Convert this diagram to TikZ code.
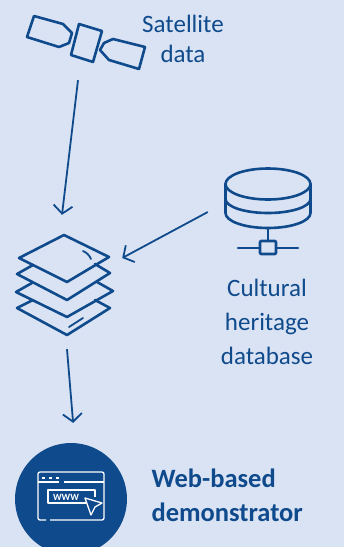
\documentclass[tikz,border=0pt]{standalone}
\usepackage{fontspec}
\setmainfont{Carlito}
\usetikzlibrary{arrows.meta}
\definecolor{pagebg}{HTML}{DAE3F3}
\definecolor{iconblue}{HTML}{0F4A8C}
\tikzset{
    iconbox/.style={inner sep=0pt, minimum width=#1},
    iconline/.style={draw=iconblue, line width=2.6pt, line join=round, line cap=round},
    webline/.style={draw=white, line width=1.3pt, line join=round},
    flow/.style={draw=iconblue, line width=1.8pt, -{Straight Barb[length=8pt,width=19pt]}},
    label/.style={text=iconblue, font=\fontsize{25}{30}\selectfont, align=center},
    boldlabel/.style={text=iconblue, font=\fontsize{26.5}{34}\selectfont\bfseries, align=left},
}
\begin{document}
\begin{tikzpicture}[x=1pt, y=-1pt, >=stealth]
    \fill[pagebg] (0,0) rectangle (344,547);
    \useasboundingbox (0,0) rectangle (344,547);

    % Nodes without outlines, the icons sit inside them
    \node (satellite) [iconbox=125pt, minimum height=76pt] at (86,42) {};
    \node (layers) [iconbox=120pt, minimum height=134pt] at (62,282) {};
    \node (database) [iconbox=120pt, minimum height=60pt] at (268,212) {};
    \node (demo) [circle, fill=iconblue, minimum size=112pt, inner sep=0pt] at (71,499) {};

    % Labels
    \node (satlabel) [label] at (183,39) {Satellite\\data};
    \node (dblabel) [label, font=\fontsize{25}{34}\selectfont] at (267,322) {Cultural\\heritage\\database};
    \node (demolabel) [boldlabel, anchor=west] at (148,495) {Web-based\\demonstrator};

    % Satellite
    \draw[iconline] (34,16) -- (63,24) -- (72,33) -- (69,43) -- (59,47) -- (27,37) -- cycle;
    \draw[iconline] (79,24) -- (102,31) -- (93,62) -- (71,55) -- cycle;
    \draw[iconline] (113,39) -- (145,47) -- (139,69) -- (109,60) -- (100,50) -- (104,43) -- cycle;

    % Layers
    \draw[iconline] (64,235) -- (109,257) -- (67,282) -- (19,258) -- cycle;
    \draw[iconline, line width=1.8pt] (83,251) to[bend left=20] (91,259);
    \draw[iconline] (33,265) -- (17,274) -- (67,300) -- (110,273) -- (95,264);
    \draw[iconline] (32,283) -- (16,292) -- (67,317) -- (113,291) -- (97,282);
    \draw[iconline] (33,300) -- (17,308) -- (67,335) -- (110,308) -- (95,300);
    \draw[iconline, line width=1.8pt] (69,327) -- (83,318);

    % Database
    \draw[iconline] (268,184) ellipse (42.5 and 15.5);
    \draw[iconline] (225.5,184) -- (225.5,213) arc[start angle=180, end angle=360, x radius=42.5, y radius=-15] -- (310.5,184);
    \draw[iconline] (225.5,199) arc[start angle=180, end angle=360, x radius=42.5, y radius=-14];
    \draw[iconline] (268,228) -- (268,240);
    \draw[iconline] (238,248) -- (259,248) (277,248) -- (298,248);
    \draw[iconline, rounded corners=1pt] (260,241) rectangle (276,254);

    % Browser window
    \draw[webline, rounded corners=2pt] (46,520) -- (38,520) -- (38,472) -- (104,472) -- (104,520) -- (50,520);
    \draw[webline] (38,482) -- (59,482) (64,482) -- (104,482);
    \foreach \x in {43,50,57} {
        \fill[white] (\x-1.5,476.5) rectangle (\x+1.5,479);
    }
    \draw[webline] (86,503) -- (48,503) -- (48,490) -- (95,490) -- (95,497);
    \node (www) [text=white, inner sep=0pt, font=\fontsize{9.5}{10}\selectfont\bfseries] at (66,497) {WWW};
    \draw[webline, fill=iconblue] (85,498) -- (102,503) -- (95,507) -- (91,515) -- cycle;

    % Arrows between the icons
    \draw[flow] ([xshift=-8pt]satellite.south) -- (layers.north);
    \draw[flow] (database.west) -- ([yshift=24pt]layers.east);
    \draw[flow, shorten >=20pt] ([xshift=5pt]layers.south) -- ([xshift=3.8pt]demo.north);
\end{tikzpicture}
\end{document}
